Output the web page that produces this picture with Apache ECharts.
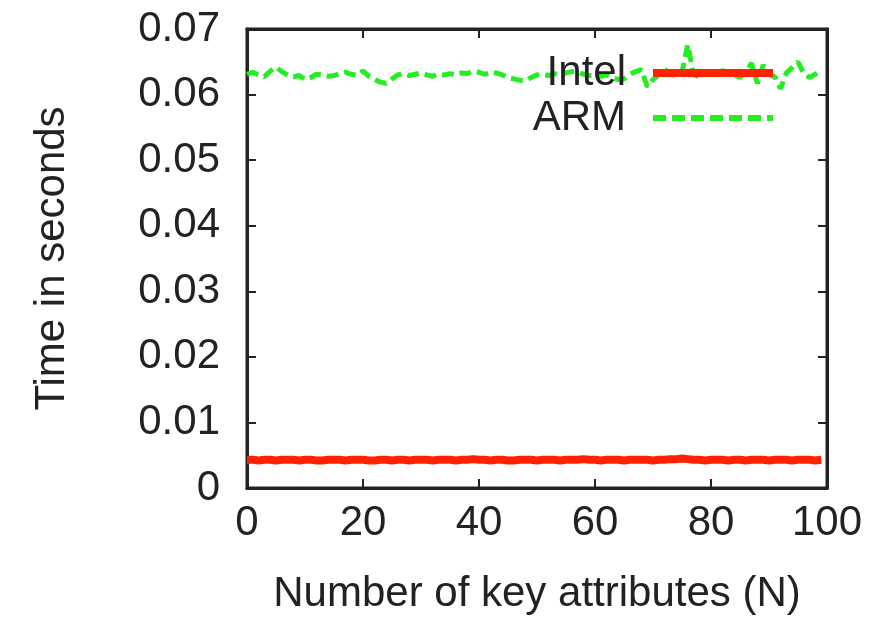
<!DOCTYPE html>
<html>
<head>
<meta charset="utf-8">
<script src="https://cdn.jsdelivr.net/npm/echarts@6/dist/echarts.min.js"></script>
<style>
  html, body { margin: 0; padding: 0; background: #fff; }
  #main { width: 871px; height: 620px; }
</style>
</head>
<body>
<div id="main"></div>
<script>
// x values: number of key attributes
var xValues = [];
for (var i = 0; i < 100; i++) xValues.push(i);

// time in seconds
var intelTimes = [
  0.0043, 0.0043, 0.0042, 0.0043, 0.0043, 0.0042, 0.0043, 0.0043, 0.0043, 0.0042,
  0.0043, 0.0043, 0.0042, 0.0042, 0.0043, 0.0043, 0.0043, 0.0042, 0.0043, 0.0043,
  0.0043, 0.0042, 0.0042, 0.0043, 0.0043, 0.0042, 0.0043, 0.0043, 0.0042, 0.0043,
  0.0043, 0.0043, 0.0042, 0.0043, 0.0043, 0.0043, 0.0042, 0.0043, 0.0043, 0.0044,
  0.0043, 0.0043, 0.0042, 0.0043, 0.0043, 0.0042, 0.0042, 0.0043, 0.0043, 0.0043,
  0.0042, 0.0043, 0.0043, 0.0043, 0.0042, 0.0043, 0.0043, 0.0043, 0.0044, 0.0043,
  0.0043, 0.0042, 0.0043, 0.0043, 0.0043, 0.0042, 0.0043, 0.0043, 0.0043, 0.0043,
  0.0042, 0.0043, 0.0043, 0.0044, 0.0044, 0.0045, 0.0044, 0.0043, 0.0043, 0.0042,
  0.0043, 0.0043, 0.0043, 0.0042, 0.0043, 0.0043, 0.0042, 0.0043, 0.0043, 0.0043,
  0.0042, 0.0043, 0.0043, 0.0043, 0.0042, 0.0043, 0.0043, 0.0043, 0.0042, 0.0043
];
var armTimes = [
  0.0631, 0.0634, 0.0630, 0.0627, 0.0636, 0.0642, 0.0635, 0.0630, 0.0627, 0.0629,
  0.0623, 0.0626, 0.0631, 0.0630, 0.0628, 0.0629, 0.0632, 0.0634, 0.0631, 0.0629,
  0.0636, 0.0628, 0.0623, 0.0619, 0.0617, 0.0624, 0.0630, 0.0632, 0.0629, 0.0631,
  0.0633, 0.0630, 0.0628, 0.0631, 0.0630, 0.0632, 0.0630, 0.0633, 0.0632, 0.0636,
  0.0634, 0.0631, 0.0634, 0.0633, 0.0630, 0.0626, 0.0624, 0.0622, 0.0621, 0.0626,
  0.0630, 0.0631, 0.0629, 0.0632, 0.0630, 0.0633, 0.0635, 0.0635, 0.0631, 0.0629,
  0.0629, 0.0628, 0.0630, 0.0626, 0.0623, 0.0624, 0.0631, 0.0635, 0.0638, 0.0612,
  0.0623, 0.0630, 0.0638, 0.0632, 0.0628, 0.0634, 0.0676, 0.0630, 0.0628, 0.0633,
  0.0632, 0.0629, 0.0637, 0.0631, 0.0630, 0.0626, 0.0634, 0.0648, 0.0617, 0.0645,
  0.0631, 0.0627, 0.0609, 0.0633, 0.0641, 0.0650, 0.0632, 0.0626, 0.0631, 0.0638
];
var xTicks = [0, 20, 40, 60, 80, 100];
var yTicks = [0, 0.01, 0.02, 0.03, 0.04, 0.05, 0.06, 0.07];

function pairs(xs, ys) {
  return xs.map(function (x, i) { return [x, ys[i]]; });
}

var font = 'Liberation Sans';
var ink = '#222';
var red = '#ff2200';
var green = '#22ee22';
var frame = { show: true, onZero: false, lineStyle: { color: ink, width: 3 } };
var tickIn = { show: true, inside: true, length: 9, lineStyle: { color: ink, width: 2 } };

var myChart = echarts.init(document.getElementById('main'), null, { renderer: 'canvas' });
var option = {
  animation: false,
  backgroundColor: '#fff',
  // gnuplot style box round the plot
  grid: {
    show: true, borderColor: ink, borderWidth: 3, backgroundColor: 'transparent',
    left: 247, right: 44, top: 29, bottom: 129, containLabel: false
  },
  legend: {
    orient: 'vertical',
    right: 89,
    top: 47,
    align: 'right',
    itemWidth: 120,
    itemHeight: 10,
    itemGap: 3,
    itemStyle: { opacity: 0 },
    textStyle: { fontFamily: font, fontSize: 42, lineHeight: 42, color: ink, padding: [0, 22, 0, 0] },
    data: [
      { name: 'Intel', lineStyle: { color: red, width: 8 } },
      { name: 'ARM', lineStyle: { color: green, width: 6, type: [13, 6] } }
    ]
  },
  xAxis: [{
    type: 'value',
    min: xTicks[0], max: xTicks[xTicks.length - 1], interval: 20,
    name: 'Number of key attributes (N)',
    nameLocation: 'middle',
    nameGap: 85,
    nameTextStyle: { fontFamily: font, fontSize: 42, color: ink },
    axisLine: frame,
    axisTick: tickIn,
    axisLabel: { fontFamily: font, fontSize: 42, color: ink, margin: 14 },
    splitLine: { show: false }
  }, {
    type: 'value', position: 'top',
    min: xTicks[0], max: xTicks[xTicks.length - 1], interval: 20,
    axisLine: frame, axisTick: tickIn,
    axisLabel: { show: false }, splitLine: { show: false }
  }],
  yAxis: [{
    type: 'value',
    min: yTicks[0], max: yTicks[yTicks.length - 1], interval: 0.01,
    name: 'Time in seconds',
    nameLocation: 'middle',
    nameGap: 174,
    nameTextStyle: { fontFamily: font, fontSize: 42, color: ink },
    axisLine: frame,
    axisTick: tickIn,
    axisLabel: {
      fontFamily: font, fontSize: 42, color: ink, margin: 27,
      formatter: function (v) { return v === 0 ? '0' : v.toFixed(2); }
    },
    splitLine: { show: false }
  }, {
    type: 'value', position: 'right',
    min: yTicks[0], max: yTicks[yTicks.length - 1], interval: 0.01,
    axisLine: frame, axisTick: tickIn,
    axisLabel: { show: false }, splitLine: { show: false }
  }],
  series: [{
    name: 'Intel',
    type: 'line',
    symbol: 'none',
    data: pairs(xValues, intelTimes),
    itemStyle: { color: red },
    lineStyle: { color: red, width: 8 }
  }, {
    name: 'ARM',
    type: 'line',
    symbol: 'none',
    data: pairs(xValues, armTimes),
    itemStyle: { color: green },
    lineStyle: { color: green, width: 5, type: [12, 6] }
  }]
};
myChart.setOption(option);
</script>
</body>
</html>
